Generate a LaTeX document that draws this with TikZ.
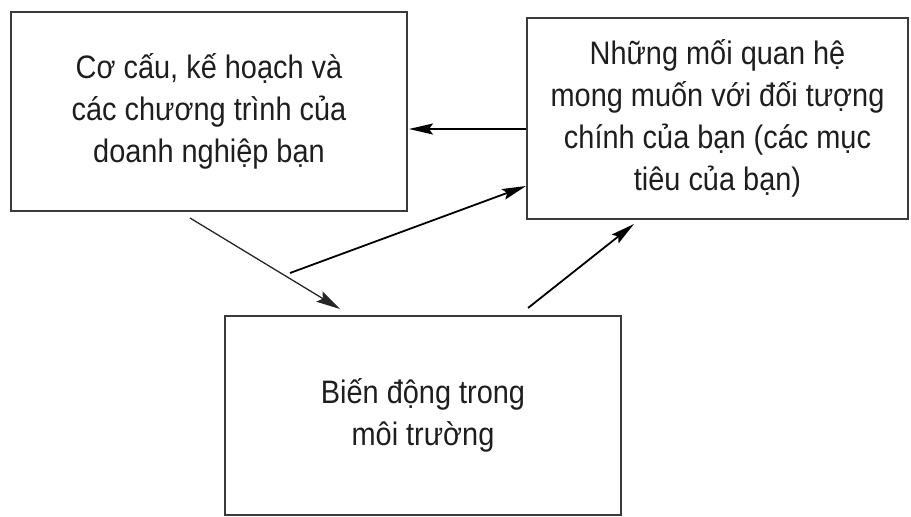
\documentclass[tikz,border=0pt]{standalone}
\usepackage{fontspec}
\setmainfont{Liberation Sans}[FakeStretch=0.89]
\usetikzlibrary{arrows.meta}
\definecolor{boxline}{HTML}{3A3A3A}
\definecolor{txt}{HTML}{1E1E1E}
\begin{document}
\begin{tikzpicture}[x=1pt,y=-1pt,
  box/.style={draw=boxline, line width=2pt, text=txt, align=center,
    inner sep=0pt, font=\fontsize{32.5}{42}\selectfont},
  conn/.style={draw=black, line width=1.8pt, -{Stealth[length=24pt,width=11pt,inset=4pt]}},
  thinconn/.style={draw=black!85, line width=1.3pt, -{Stealth[length=24pt,width=12pt,inset=4pt]}}]
\useasboundingbox (0,0) rectangle (911,517);
\node[box, minimum width=396pt, minimum height=199pt] (left) at (209,111.5)
  {Cơ cấu, kế hoạch và\\các chương trình của\\doanh nghiệp bạn};
\node[box, minimum width=381pt, minimum height=201pt] (right) at (717.5,118.5)
  {Những mối quan hệ\\mong muốn với đối tượng\\chính của bạn (các mục\\tiêu của bạn)};
\node[box, minimum width=396pt, minimum height=199pt] (bottom) at (423,415.5)
  {Biến động trong\\môi trường};
% connector end points
\coordinate (a1s) at (190,218);
\coordinate (a1e) at (340,309);
\coordinate (a2s) at (290,273);
\coordinate (a3s) at (528,308);
\coordinate (a3e) at (634,224);
\coordinate (a4e) at (409,129);
\draw[thinconn] (a1s) -- (a1e);
\draw[conn] (a2s) -- (right.west |- 0,186);
\draw[conn] (a3s) -- (a3e);
\draw[conn] (right.west |- 0,129) -- (a4e);
\end{tikzpicture}
\end{document}
